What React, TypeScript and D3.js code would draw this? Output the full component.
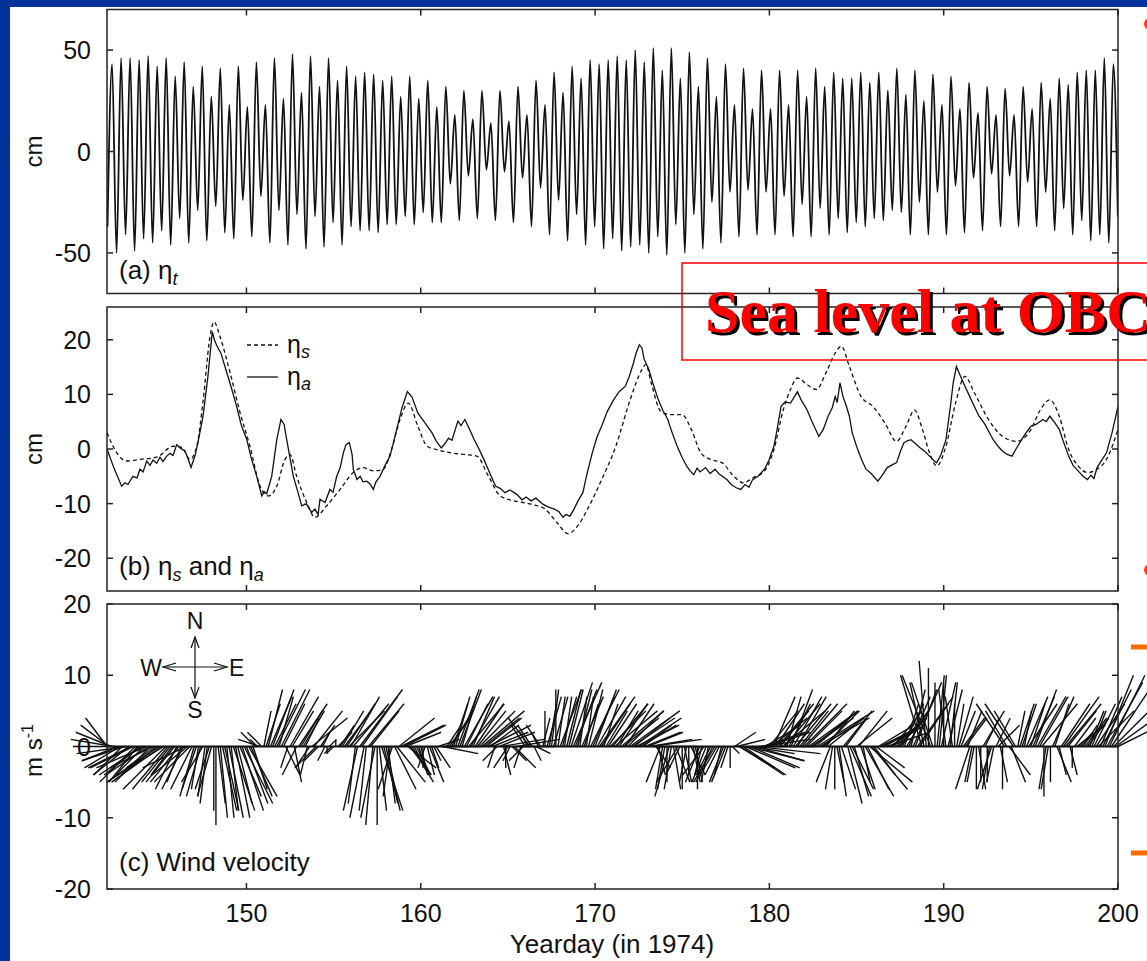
import React from "react";
import * as d3 from "d3";

const W = 1147;
const H = 961;
const X0 = 107;
const X1 = 1118;
const FONT = "'Liberation Sans', Arial, Helvetica, sans-serif";

// (a) total sea level: successive high / low water heights (cm), M2 rhythm
const tideHighs = [
  43, 46, 46, 45, 47, 42, 46, 37, 44, 32, 42, 27, 41, 23, 42, 22, 44, 23, 46, 26, 48, 29, 47, 32, 46, 35, 42, 37, 39, 38, 35, 37, 27, 37, 26, 35, 22,
  32, 18, 30, 16, 30, 14, 30, 15, 32, 18, 35, 23, 39, 29, 42, 36, 45, 43, 45, 47, 45, 50, 44, 51, 40, 51, 36, 49, 32, 46, 27, 43, 23, 41, 21, 40, 21,
  40, 23, 40, 27, 41, 32, 39, 36, 36, 39, 34, 39, 30, 41, 28, 40, 25, 38, 23, 37, 21, 34, 19, 32, 18, 31, 18, 32, 21, 34, 26, 36, 33, 39, 40, 40, 46, 43,
];
const tideLows = [
  -37, -50, -41, -49, -43, -45, -39, -46, -33, -45, -29, -44, -27, -40, -43, -24, -42, -22, -45, -29, -46, -31, -48, -32, -47, -35, -46, -37, -39, -39, -40, -36, -36, -32, -36, -30, -35,
  -35, -16, -34, -12, -33, -9, -34, -10, -35, -13, -37, -18, -41, -24, -44, -31, -46, -37, -48, -43, -49, -47, -46, -50, -42, -51, -36, -50, -31, -48, -25, -45, -20, -42, -19, -41, -20,
  -41, -22, -42, -26, -42, -28, -41, -33, -40, -35, -37, -33, -34, -29, -30, -41, -25, -41, -20, -41, -17, -40, -13, -39, -11, -37, -12, -37, -15, -37, -20, -39, -28, -41, -34, -44, -41, -45, -32,
];
const FIRST_HIGH = 142.29;
const FIRST_LOW = 142.03;
const M2 = 0.5175;

// (b) subtidal sea level [yearday, cm]
const etaS: [number, number][] = [
  [142.0, 3], [142.56, -0.7], [143.13, -2.2], [143.89, -1.9], [144.85, -1.5], [145.8, 0.5], [146.29, 0.3], [146.76, -1.9],
  [147.15, 0.5], [147.52, 9], [147.91, 20.6], [148.14, 23.3], [148.48, 20.6], [149.06, 14], [149.63, 6.7], [150.2, 0.5],
  [150.78, -6.8], [151.25, -8.6], [151.74, -6.8], [152.21, -1.9], [152.5, -1], [152.88, -5], [153.46, -9.8], [153.93, -12.5],
  [154.6, -10.4], [155.37, -7.4], [156.13, -4.3], [156.7, -3.4], [157.28, -4], [157.85, -3.7], [158.33, 0], [158.81, 5.4],
  [159.29, 8.4], [159.83, 4.2], [160.37, 0.5], [160.91, -0.1], [161.72, -0.7], [162.53, -1], [163.21, -1.3], [163.89, -5],
  [164.56, -8.6], [165.37, -9.5], [166.33, -10.1], [167.13, -11], [167.82, -13.5], [168.45, -15.5], [169.02, -14], [169.57, -11],
  [170.38, -5.6], [171.19, 0.5], [172.01, 9], [172.68, 14.5], [172.92, 15.5], [173.22, 12.1], [173.77, 6.9], [174.31, 6.3],
  [174.98, 6.3], [175.52, 3.6], [176.07, -0.7], [176.61, -1.9], [177.28, -2.5], [177.96, -5], [178.5, -6.2], [179.04, -5.3],
  [179.72, -4], [180.26, -0.1], [180.8, 7.2], [181.21, 10.9], [181.61, 13], [182.16, 11.8], [182.7, 10.9], [183.24, 13.9],
  [183.78, 17.6], [184.13, 18.8], [184.59, 15.1], [185.26, 9.6], [185.94, 7.8], [186.62, 4.8], [187.3, 1.4], [187.84, 4.2],
  [188.33, 7.1], [188.78, 3.6], [189.19, -0.7], [189.6, -3.1], [190.13, 0.5], [190.68, 8.4], [191.22, 13.3], [191.76, 10.3],
  [192.57, 5.4], [193.38, 2.3], [194.2, 1.4], [195.01, 3.6], [195.55, 7.2], [196.09, 9], [196.63, 6], [197.17, -0.1],
  [197.71, -3.1], [198.25, -4.3], [198.8, -3.7], [199.34, -1.9], [200.0, 3.6],
];
const etaA: [number, number][] = [
  [142.0, 0], [142.4, -3.5], [142.84, -6.8], [143.03, -6.2], [143.2, -6.5], [143.49, -5], [143.72, -5.3], [143.89, -3.7],
  [144.07, -4.2], [144.28, -2.2], [144.47, -3], [144.64, -2], [144.85, -2.6], [145.04, -1.5], [145.21, -2.3], [145.43, -1.3],
  [145.61, -0.8], [145.79, -1.2], [146.0, 0.8], [146.19, 0.2], [146.48, -0.4], [146.65, -1.8], [146.82, -3.4], [147.05, -1.2],
  [147.22, 1.2], [147.51, 6], [147.79, 13.3], [148.04, 21.5], [148.16, 20], [148.29, 19], [148.54, 17.5], [148.87, 14],
  [149.11, 11.5], [149.44, 7.8], [149.69, 4.5], [150.02, 1.7], [150.26, -1.5], [150.59, -5], [150.88, -8.6], [151.01, -7.8],
  [151.16, -8.2], [151.45, -5], [151.74, 1.7], [151.98, 5.4], [152.16, 4.5], [152.31, 1.7], [152.69, -5], [152.96, -8],
  [153.17, -10.4], [153.42, -10], [153.74, -11.6], [153.93, -11], [154.11, -12], [154.22, -9.2], [154.51, -9.8], [154.79, -7.4],
  [154.97, -7.9], [155.18, -5], [155.37, -3.5], [155.56, -0.7], [155.71, 0.8], [155.9, 1.2], [156.06, -1], [156.13, -3.7],
  [156.34, -5.6], [156.52, -5], [156.69, -6], [156.9, -5.9], [157.09, -6.4], [157.28, -7.4], [157.43, -6], [157.66, -5],
  [157.95, -3], [158.24, -1.3], [158.62, 3.6], [158.92, 7.5], [159.23, 10.5], [159.5, 9.5], [159.83, 6.6], [160.19, 5],
  [160.64, 3], [160.88, 1.5], [161.18, 0.2], [161.39, 1], [161.59, 2], [161.79, 1.6], [162.13, 5.1], [162.31, 4.3],
  [162.53, 5.4], [162.77, 3.8], [163.07, 1.7], [163.34, 0], [163.62, -1.9], [163.97, -4.5], [164.29, -6.8], [164.55, -7.2],
  [164.83, -8], [165.12, -7.5], [165.51, -8.3], [165.81, -9.3], [166.04, -8.8], [166.33, -9.5], [166.61, -9], [167.0, -10.1],
  [167.3, -10.6], [167.67, -11], [167.93, -11.5], [168.16, -12.5], [168.33, -12], [168.56, -12.3], [168.79, -11], [169.02, -9.5],
  [169.3, -8], [169.54, -4.5], [169.84, -0.7], [170.11, 2.2], [170.38, 4.2], [170.69, 6.8], [171.06, 9], [171.38, 10.5],
  [171.74, 11.5], [171.95, 13.2], [172.2, 15.7], [172.35, 17.5], [172.54, 19.1], [172.69, 18.5], [172.81, 16.5], [173.09, 14.5],
  [173.32, 12], [173.63, 9], [173.9, 7], [174.17, 5.4], [174.42, 3], [174.71, 0.5], [174.99, -1.5], [175.25, -3.1],
  [175.45, -4], [175.66, -4.7], [175.85, -3.5], [176.02, -4.2], [176.34, -3.4], [176.6, -4.5], [176.88, -3.7], [177.12, -4.6],
  [177.56, -5.6], [177.81, -6.5], [178.09, -7.1], [178.36, -7.4], [178.6, -6.5], [178.83, -7], [179.04, -5.6], [179.35, -5],
  [179.72, -3.7], [179.98, -2], [180.26, 0.5], [180.44, 3.5], [180.67, 7.8], [180.9, 8.6], [181.21, 8.4], [181.42, 9.5],
  [181.61, 10.5], [181.82, 9], [182.16, 7.2], [182.45, 5], [182.84, 2.3], [183.08, 3.5], [183.37, 6], [183.6, 7.5],
  [183.78, 9.6], [183.89, 8.5], [184.05, 12.1], [184.23, 9.5], [184.4, 8], [184.59, 6], [184.75, 3], [185.0, 0.5],
  [185.27, -1.8], [185.54, -3.7], [185.84, -4.5], [186.22, -5.9], [186.48, -4.8], [186.76, -3.4], [186.99, -3], [187.3, -2.5],
  [187.51, -0.5], [187.71, 1.1], [187.91, 1.5], [188.12, 1.7], [188.37, 1], [188.66, 0.2], [188.94, -0.5], [189.19, -1.3],
  [189.4, -2], [189.6, -2.5], [189.85, -1], [190.13, 1.7], [190.41, 8.4], [190.54, 12], [190.73, 15.1], [190.94, 13.5],
  [191.22, 11.5], [191.51, 9.5], [191.8, 7.5], [192.03, 6], [192.37, 4.5], [192.84, 1.7], [193.12, 0.5], [193.38, -0.4],
  [193.64, -1], [193.92, -1.3], [194.15, 0], [194.47, 1.7], [194.73, 3], [195.01, 4.2], [195.3, 4.5], [195.69, 5.4],
  [195.88, 5], [196.09, 6], [196.33, 5], [196.63, 3.6], [196.85, 1.5], [197.17, -1.3], [197.42, -3], [197.71, -4],
  [197.99, -5], [198.25, -5.6], [198.45, -4.8], [198.62, -5.4], [198.8, -3.4], [199.08, -2], [199.34, -0.7], [199.66, 3],
  [200.0, 7.8],
];

// (c) wind, 3-hourly from yearday 142.0: east (u) and north (v) components, m/s; one row per day
const WIND_START = 142;
const WIND_STEP = 0.125;
const windU = [
  -3, -4, -5, -6, -6, -5, -5, -4, // 142
  -6, -7, -5, -6, -6, -5, -4, -5,
  -6, -5, -7, -6, -5, -6, -4, -5,
  -6, -7, -8, -6, -5, -4, -3, -4, // 145
  -3, -4, -2, -3, -6, -5, -5, -3,
  -2, -2, -1, -2, -3, -1, -1, -2,
  -2, 0, 0, 1, 1, 2, 2, 1,
  2, 1, 3, 2, 2, 3, 3, 4,
  3, 4, 3, 2, -2, -1, -3, -2, // 150
  1, 2, 2, 3, 3, 3, 4, 2,
  4, 3, 2, -1, 4, 3, 1, -2,
  4, 3, 3, 2, -1, -2, 5, 4,
  -3, -2, 2, 1, -1, 0, 1, -1,
  -1, 0, 2, 2, 3, 3, 4, 5, // 155
  4, 5, -1, -2, 6, 5, -2, -1,
  5, 4, -1, -2, 0, 1, 3, 2,
  2, 1, -1, -2, 3, 4, 5, 6,
  6, 5, 4, 3, 3, 2, 2, 1,
  1, 0, -1, 1, 2, 1, 1, 2, // 160
  3, 4, 5, 5, 2, 3, 3, 2,
  2, 3, 3, 2, 4, 3, 5, 4,
  3, 4, 4, 5, 6, 5, 5, 6,
  4, 5, -1, -2, 5, 6, 1, 0,
  -2, -1, 2, 3, 6, 5, -1, -2, // 165
  -2, -1, -3, -2, 1, 2, -1, -2,
  1, 0, 2, 1, 1, 2, 0, 1,
  3, 2, 1, 2, 2, 3, 4, 3,
  2, 1, 3, 2, 1, 2, 4, 3,
  3, 4, 5, 4, 2, 3, 4, 5, // 170
  5, 6, 3, 4, 6, 5, 4, 5,
  7, 6, 5, 6, 6, 5, 4, 5,
  5, 6, 7, 6, 2, 1, -2, -1,
  -1, 0, -2, -1, 1, 2, -3, -2,
  0, 1, -1, 0, 2, 1, 1, 0, // 175
  -2, -1, -3, -2, -1, -2, -2, -3,
  -3, -2, -1, -2, -2, -1, 0, 1,
  3, 4, 5, 6, 6, 7, 8, 7,
  6, 7, 9, 8, 7, 6, 5, 6,
  4, 5, 3, 4, 5, 4, 6, 5, // 180
  2, 3, 3, 4, 5, 4, 4, 5,
  6, 5, 7, 6, 5, 6, 8, 7,
  6, 5, 4, 5, -2, -1, 0, 1,
  1, 2, 4, 3, 2, 3, 3, 2,
  5, 4, 2, 1, 4, 3, 6, 5, // 185
  3, 4, 5, 4, 4, 5, 6, 5,
  5, 4, 3, 4, 4, 3, 2, 3,
  3, 2, 4, 3, 5, 4, -3, -2,
  -1, 0, -4, -3, 0, 1, 1, 2,
  0, -1, 2, 1, -1, 0, 1, 2, // 190
  2, 3, 3, 2, -2, -1, -1, 0,
  1, 0, 3, 2, 0, -1, -2, -1,
  2, 3, 1, 0, -4, -3, 3, 2,
  -4, -3, 1, 2, 2, 1, 3, 4,
  2, 3, 3, 4, 4, 5, 0, -1, // 195
  -1, 0, 3, 2, 2, 1, 4, 5,
  5, 4, 1, 0, 3, 4, 2, 3,
  2, 3, 3, 2, 2, 3, 4, 5,
  3, 4, 4, 5, 5, 6, 6, 7,
  6, // 200
];
const windV = [
  4, 3, 2, 1, 0, -2, -3, -4, // 142
  -2, -1, -4, -3, -3, -5, -5, -4,
  -4, -5, -3, -4, -5, -3, -3, -4,
  -4, -5, -5, -6, -6, -5, -4, -5, // 145
  -6, -5, -5, -6, -3, -4, -5, -6,
  -7, -6, -6, -7, -5, -7, -8, -6,
  -7, -9, -11, -8, -10, -9, -9, -10,
  -10, -9, -9, -10, -8, -7, -9, -8,
  -8, -7, -7, -6, 2, 1, 1, 2, // 150
  5, 6, 8, 7, 8, 6, 8, 7,
  8, 6, -4, -3, 7, 5, -5, -4,
  6, 5, 5, 4, -4, -3, 4, 5,
  -3, -2, 3, 2, -2, -1, 1, -1,
  -1, 1, 2, 3, 5, 4, 6, 5, // 155
  7, 6, -8, -9, 8, 7, -10, -9,
  6, 5, -11, -10, -11, -9, -9, -8,
  -9, -8, -7, -6, -6, -5, 4, 3,
  3, 2, -3, -4, -5, -4, -4, -3,
  -4, -3, -3, -4, -5, -3, -2, -3, // 160
  1, 0, -1, 0, 3, 4, 5, 6,
  7, 8, 8, 7, 7, 6, 6, 7,
  7, 6, 5, 5, 5, 4, 4, 3,
  3, 2, -3, -2, 2, 1, -4, -3,
  -3, -2, -2, -3, 1, 0, -3, -2, // 165
  3, 2, 4, 3, -2, -1, 2, 3,
  4, 5, 7, 6, 8, 7, 8, 7,
  8, 7, 7, 8, 8, 9, 9, 8,
  8, 7, 7, 6, 7, 8, 8, 7,
  8, 7, 7, 6, 6, 5, 6, 5, // 170
  6, 5, 5, 6, 5, 4, 6, 5,
  5, 4, 4, 3, 4, 3, 3, 2,
  2, 1, 1, 0, -3, -4, -5, -6,
  -6, -5, -7, -6, -6, -5, -5, -4,
  -6, -5, -5, -4, -4, -5, -5, -6, // 175
  -5, -4, -4, -5, -5, -4, -4, -5,
  -5, -4, -4, -5, -5, -3, -3, -1,
  2, 1, -3, -4, -4, -3, -2, -3,
  -1, -2, -1, 0, 1, 2, 3, 2,
  5, 4, 7, 6, 6, 5, 5, 6, // 180
  7, 6, 8, 7, 6, 7, 5, 6,
  6, 5, 5, 4, 4, 5, 5, 4,
  4, 5, 5, 4, -5, -6, -6, -5,
  -7, -6, 5, 4, -8, -7, -6, -7,
  4, 5, -6, -5, -7, -6, -5, -6, // 185
  -4, -3, 3, 2, 2, 3, 2, 3,
  4, 5, 3, 4, 5, 6, 6, 5,
  7, 8, 9, 8, 7, 6, 10, 9,
  12, 11, 10, 9, 9, 10, 10, 9,
  9, 8, 8, 9, 7, 6, 6, 7, // 190
  5, 4, 4, 5, -6, -5, -5, -6,
  -6, -5, 5, 4, -5, -6, -6, -5,
  4, 3, -5, -6, 6, 5, -4, -5,
  6, 5, 5, 6, 6, 5, 7, 6,
  6, 7, 8, 7, 7, 6, -7, -6, // 195
  -6, -5, 7, 6, -5, -4, 6, 7,
  6, 5, -4, -3, 4, 3, 2, 3,
  3, 4, 4, 5, 5, 6, 6, 5,
  7, 8, 10, 9, 10, 9, 6, 5,
  3, // 200
];

const xTicks = [150, 160, 170, 180, 190, 200];
const aTicks = [50, 0, -50];
const bTicks = [20, 10, 0, -10, -20];
const cTicks = [20, 10, 0, -10, -20];

const x = d3.scaleLinear().domain([142, 200]).range([X0, X1]);
const ya = d3.scaleLinear().domain([-70, 70]).range([293.5, 9.5]);
const yb = d3.scaleLinear().domain([-26, 26]).range([591, 307]);
const yc = d3.scaleLinear().domain([-20, 20]).range([889, 604]);

type Pt = [number, number];

const Frame = ({ y, ticks }: { y: d3.ScaleLinear<number, number>; ticks: number[] }) => {
  const [bottom, top] = y.range();
  return (
    <g stroke="#222" strokeWidth={1.5} fill="none">
      <rect x={X0} y={top} width={X1 - X0} height={bottom - top} />
      {xTicks.map((t) => (
        <g key={t}>
          <line x1={x(t)} x2={x(t)} y1={top} y2={top + 6} />
          <line x1={x(t)} x2={x(t)} y1={bottom} y2={bottom - 6} />
        </g>
      ))}
      {ticks.map((v) => (
        <g key={v}>
          <line x1={X0} x2={X0 + 6} y1={y(v)} y2={y(v)} />
          <line x1={X1} x2={X1 - 6} y1={y(v)} y2={y(v)} />
          <text x={91} y={y(v)} dy="0.36em" textAnchor="end" stroke="none" fill="#111" fontSize={25} fontFamily={FONT}>
            {v}
          </text>
        </g>
      ))}
    </g>
  );
};

const App = () => {
  const tidePts: Pt[] = [];
  tideLows.forEach((lo, j) => {
    tidePts.push([FIRST_LOW + j * M2, lo]);
    if (j < tideHighs.length) tidePts.push([FIRST_HIGH + j * M2, tideHighs[j]]);
  });
  const tideLine = d3.line<Pt>().x((d) => x(d[0])).y((d) => ya(d[1])).curve(d3.curveMonotoneX);
  const bLine = d3.line<Pt>().x((d) => x(d[0])).y((d) => yb(d[1])).curve(d3.curveLinear);
  const bSmooth = d3.line<Pt>().x((d) => x(d[0])).y((d) => yb(d[1])).curve(d3.curveMonotoneX);

  const px = yc(0) - yc(1); // pixels per m/s, same on both axes
  const sticks = windU.map((u, i) => {
    const t = WIND_START + i * WIND_STEP;
    return { x1: x(t), y1: yc(0), x2: x(t) + u * px, y2: yc(windV[i]) };
  });

  const cx = 195;
  const cy = 667;
  const txt = { fontFamily: FONT, fontSize: 26, fill: "#111" };

  return (
    <svg width={W} height={H} style={{ position: "absolute", left: 0, top: 0, display: "block" }}>
      <defs>
        <clipPath id="clipA">
          <rect x={X0} y={9.5} width={X1 - X0} height={284} />
        </clipPath>
        <clipPath id="clipB">
          <rect x={X0} y={307} width={X1 - X0} height={284} />
        </clipPath>
      </defs>
      <rect width={W} height={H} fill="#02329a" />
      <rect x={10} y={7} width={W - 10} height={H - 7} fill="#ffffff" />

      {/* (a) */}
      <path d={tideLine(tidePts) ?? ""} fill="none" stroke="#111" strokeWidth={1.8} clipPath="url(#clipA)" />
      <Frame y={ya} ticks={aTicks} />
      <text x={119} y={279} {...txt}>
        (a) η<tspan dy={6} fontSize={18} fontStyle="italic">t</tspan>
      </text>
      <text transform={`translate(42,${ya(0)}) rotate(-90)`} textAnchor="middle" {...txt} fontSize={24}>cm</text>

      {/* (b) */}
      <g clipPath="url(#clipB)" fill="none" stroke="#111" strokeWidth={1.3}>
        <path d={bSmooth(etaS) ?? ""} strokeDasharray="4,3" />
        <path d={bLine(etaA) ?? ""} />
      </g>
      <Frame y={yb} ticks={bTicks} />
      <line x1={247} x2={278} y1={345} y2={345} stroke="#111" strokeWidth={1.3} strokeDasharray="4,3" />
      <line x1={247} x2={278} y1={377} y2={377} stroke="#111" strokeWidth={1.3} />
      <text x={287} y={353} {...txt} fontSize={25}>
        η<tspan dy={5} fontSize={18} fontStyle="italic">s</tspan>
      </text>
      <text x={287} y={385} {...txt} fontSize={25}>
        η<tspan dy={5} fontSize={18} fontStyle="italic">a</tspan>
      </text>
      <text x={119} y={575} {...txt}>
        (b) η<tspan dy={6} fontSize={18} fontStyle="italic">s</tspan>
        <tspan dy={-6}> and η</tspan>
        <tspan dy={6} fontSize={18} fontStyle="italic">a</tspan>
      </text>
      <text transform={`translate(42,${yb(0)}) rotate(-90)`} textAnchor="middle" {...txt} fontSize={24}>cm</text>

      {/* (c) */}
      <line x1={x(142)} x2={x(200)} y1={yc(0)} y2={yc(0)} stroke="#111" strokeWidth={1.8} />
      <g stroke="#111" strokeWidth={1.4}>
        {sticks.map((s, i) => (
          <line key={i} x1={s.x1} y1={s.y1} x2={s.x2} y2={s.y2} />
        ))}
      </g>
      <Frame y={yc} ticks={cTicks} />
      <text x={119} y={871} {...txt}>(c) Wind velocity</text>
      <text transform={`translate(42,${yc(0) + 4}) rotate(-90)`} textAnchor="middle" {...txt} fontSize={24}>
        m s<tspan dy={-9} fontSize={16}>-1</tspan>
      </text>

      {/* compass */}
      <g stroke="#111" strokeWidth={1.2} fill="none">
        <line x1={cx} x2={cx} y1={cy - 30} y2={cy + 31} />
        <line x1={cx - 32} x2={cx + 32} y1={cy} y2={cy} />
        <polyline points={`${cx - 4},${cy - 19} ${cx},${cy - 30} ${cx + 4},${cy - 19}`} />
        <polyline points={`${cx - 4},${cy + 20} ${cx},${cy + 31} ${cx + 4},${cy + 20}`} />
        <polyline points={`${cx - 19},${cy - 4} ${cx - 32},${cy} ${cx - 19},${cy + 4}`} />
        <polyline points={`${cx + 19},${cy - 4} ${cx + 32},${cy} ${cx + 19},${cy + 4}`} />
      </g>
      <text x={cx} y={629} textAnchor="middle" {...txt} fontSize={23}>N</text>
      <text x={cx} y={718} textAnchor="middle" {...txt} fontSize={23}>S</text>
      <text x={cx - 33} y={cy + 9} textAnchor="end" {...txt} fontSize={23}>W</text>
      <text x={cx + 34} y={cy + 9} {...txt} fontSize={23}>E</text>

      {/* x axis */}
      {xTicks.map((t) => (
        <text key={t} x={x(t)} y={922} textAnchor="middle" {...txt} fontSize={25}>{t}</text>
      ))}
      <text x={612} y={953} textAnchor="middle" {...txt}>Yearday (in 1974)</text>

      {/* slide overlay */}
      <rect x={682} y={263} width={520} height={97} fill="none" stroke="#ff0000" strokeWidth={1.5} />
      <g fontFamily="'Liberation Serif', 'Times New Roman', serif" fontWeight="bold" fontSize={62}>
        <text x={708} y={335} fill="#000">Sea level at OBC</text>
        <text x={705} y={332} fill="#ff0000">Sea level at OBC</text>
      </g>
      <line x1={1131} x2={1147} y1={647} y2={647} stroke="#ff6a00" strokeWidth={5} />
      <line x1={1131} x2={1147} y1={853} y2={853} stroke="#ff6a00" strokeWidth={5} />
      <circle cx={1150} cy={24} r={6} fill="#ff3b1f" />
      <circle cx={1150} cy={570} r={6} fill="#ff3b1f" />
    </svg>
  );
};

export default App;
